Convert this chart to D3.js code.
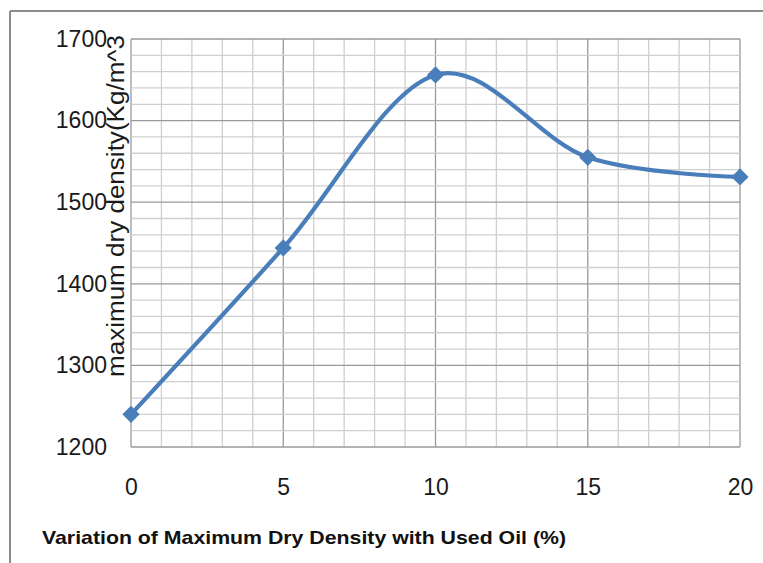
<!DOCTYPE html>
<html><head><meta charset="utf-8">
<script src="https://cdn.jsdelivr.net/npm/d3@7"></script>
<style>body{margin:0;background:#fff}svg{display:block}</style>
</head><body>
<svg id="c" width="763" height="563"></svg>
<script>
const oil = [0, 5, 10, 15, 20];
const density = [1240, 1444, 1656, 1555, 1531];
const yTicks = [1200, 1300, 1400, 1500, 1600, 1700];
const xTicks = [0, 5, 10, 15, 20];
const xTitle = "Variation of Maximum Dry Density with Used Oil (%)";
const yTitle = "maximum dry density(Kg/m^3";

const svg = d3.select("#c");
const L = 131, T = 39, R = 740, B = 447;
const x = d3.scaleLinear().domain([0, 20]).range([L, R]);
const y = d3.scaleLinear().domain([1200, 1700]).range([B, T]);
const FONT = "Liberation Sans, Arial, sans-serif";

// frame
svg.append("line").attr("x1", 10).attr("x2", 10).attr("y1", 11).attr("y2", 563).attr("stroke", "#8c8c8c").attr("stroke-width", 2);
svg.append("line").attr("x1", 10).attr("x2", 763).attr("y1", 11).attr("y2", 11).attr("stroke", "#8c8c8c").attr("stroke-width", 2);

const g = svg.append("g");
g.selectAll(".vx").data(d3.range(0, 21, 1)).join("line")
  .attr("x1", d => x(d)).attr("x2", d => x(d)).attr("y1", T).attr("y2", B)
  .attr("stroke", d => d % 5 === 0 ? "#9a9a9a" : "#cfcfcf").attr("stroke-width", 1.3);
g.selectAll(".hy").data(d3.range(1200, 1701, 20)).join("line")
  .attr("x1", L).attr("x2", R).attr("y1", d => y(d)).attr("y2", d => y(d))
  .attr("stroke", d => d % 100 === 0 ? "#9a9a9a" : "#cfcfcf").attr("stroke-width", 1.3);

// axes labels
const yAxis = d3.axisLeft(y).tickValues(yTicks).tickSize(0).tickPadding(24).tickFormat(d3.format("d"));
const ya = svg.append("g").attr("transform", `translate(${L},0)`).call(yAxis);
ya.select(".domain").remove();
ya.attr("font-size", null).attr("font-family", null);
ya.selectAll("text").style("font-family", FONT).style("font-size", "23px").attr("fill", "#1a1a1a");

const xAxis = d3.axisBottom(x).tickValues(xTicks).tickSize(0).tickPadding(32);
const xa = svg.append("g").attr("transform", `translate(0,${B})`).call(xAxis);
xa.select(".domain").remove();
xa.attr("font-size", null).attr("font-family", null);
xa.selectAll("text").style("font-family", FONT).style("font-size", "23px").attr("fill", "#1a1a1a");

// line
const line = d3.line().x(d => x(d[0])).y(d => y(d[1])).curve(d3.curveCardinal.tension(0));
const pts = oil.map((o, i) => [o, density[i]]);
svg.append("path").datum(pts).attr("d", line).attr("fill", "none")
  .attr("stroke", "#4a7ebb").attr("stroke-width", 4.2);
svg.selectAll(".m").data(pts).join("path")
  .attr("transform", d => `translate(${x(d[0])},${y(d[1])})`)
  .attr("d", d3.symbol().type(d3.symbolDiamond2 || d3.symbolDiamond).size(190))
  .attr("fill", "#4a7ebb");

// titles
svg.append("text").attr("x", 42).attr("y", 544).text(xTitle)
  .style("font-family", FONT).attr("font-weight", "bold")
  .style("font-size", "19px").attr("fill", "#111").attr("textLength", 524).attr("lengthAdjust", "spacingAndGlyphs");
svg.append("text").attr("transform", "translate(124,377) rotate(-90)").text(yTitle)
  .style("font-family", FONT).style("font-size", "23px").attr("fill", "#1a1a1a")
  .attr("textLength", 342).attr("lengthAdjust", "spacingAndGlyphs");
</script>
</body></html>
